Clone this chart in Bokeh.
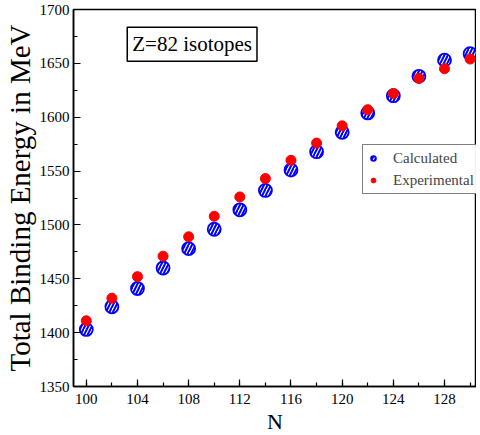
from bokeh.plotting import figure
from bokeh.models import Range1d, FixedTicker, Label, Legend, LegendItem
from bokeh.embed import file_html
from bokeh.resources import INLINE

N = [100, 102, 104, 106, 108, 110, 112, 114, 116, 118, 120, 122, 124, 126, 128, 130]
calculated = [1403, 1424, 1441, 1460, 1478, 1496, 1514, 1532, 1551, 1568, 1586, 1604, 1620, 1638, 1653, 1659]
experimental = [1411, 1432, 1452, 1471, 1489, 1508, 1526, 1543, 1560, 1576, 1592, 1607, 1622, 1636, 1645, 1654]
x_ticks = [100, 104, 108, 112, 116, 120, 124, 128]
y_ticks = [1350, 1400, 1450, 1500, 1550, 1600, 1650, 1700]

FONT = "Liberation Serif, Times New Roman, DejaVu Serif, serif"

p = figure(width=476, height=436, output_backend="svg", toolbar_location=None,
           x_range=Range1d(99, 130.5), y_range=Range1d(1350, 1700),
           min_border_left=69, min_border_top=9, min_border_bottom=42, min_border_right=0)
p.grid.visible = False
p.outline_line_color = "black"
p.outline_line_width = 1.5

r_calc = p.scatter(N, calculated, size=13, marker="circle", fill_color="white",
                   line_color="blue", line_width=1.8, hatch_pattern="/",
                   hatch_color="blue", hatch_weight=2, hatch_scale=7)
r_exp = p.scatter(N, experimental, size=10, marker="circle", fill_color="red",
                  line_color="red")

for ax in (p.xaxis[0], p.yaxis[0]):
    ax.major_tick_in = 7
    ax.major_tick_out = 0
    ax.minor_tick_in = 4
    ax.minor_tick_out = 0
    ax.axis_line_width = 1.5
    ax.major_tick_line_width = 1.2
    ax.minor_tick_line_width = 1.2
    ax.major_label_text_font = FONT
    ax.major_label_text_font_size = "15px"
    ax.major_label_text_color = "black"
    ax.axis_label_text_font = FONT
    ax.axis_label_text_font_style = "normal"
    ax.axis_label_text_color = "black"

p.xaxis[0].ticker = FixedTicker(ticks=x_ticks, minor_ticks=list(range(100, 132, 2)))
p.yaxis[0].ticker = FixedTicker(ticks=y_ticks, minor_ticks=list(range(1350, 1701, 25)))
p.xaxis[0].axis_label = "N"
p.xaxis[0].axis_label_text_font_size = "22px"
p.xaxis[0].axis_label_standoff = 2
p.xaxis[0].major_label_standoff = 7
p.yaxis[0].axis_label = "Total Binding Energy in MeV"
p.yaxis[0].axis_label_text_font_size = "29px"
p.yaxis[0].axis_label_standoff = 1
p.yaxis[0].major_label_standoff = 4

lab = Label(x=103.2, y=1652, text="Z=82 isotopes", text_font=FONT,
            text_font_size="21px", text_color="black",
            border_line_color="black", border_line_width=1.5,
            background_fill_color="white", padding=5)
p.add_layout(lab)

legend = Legend(items=[LegendItem(label="Calculated", renderers=[r_calc]),
                       LegendItem(label="Experimental", renderers=[r_exp])],
                location=(289, 192))
legend.label_text_font = FONT
legend.label_text_font_size = "15px"
legend.border_line_color = "black"
legend.border_line_width = 1.2
legend.glyph_width = 12
legend.glyph_height = 18
legend.label_height = 18
legend.spacing = 4
legend.padding = 4
legend.margin = 0
legend.label_standoff = 14
p.add_layout(legend)

open("out.html", "w").write(file_html(p, INLINE))
